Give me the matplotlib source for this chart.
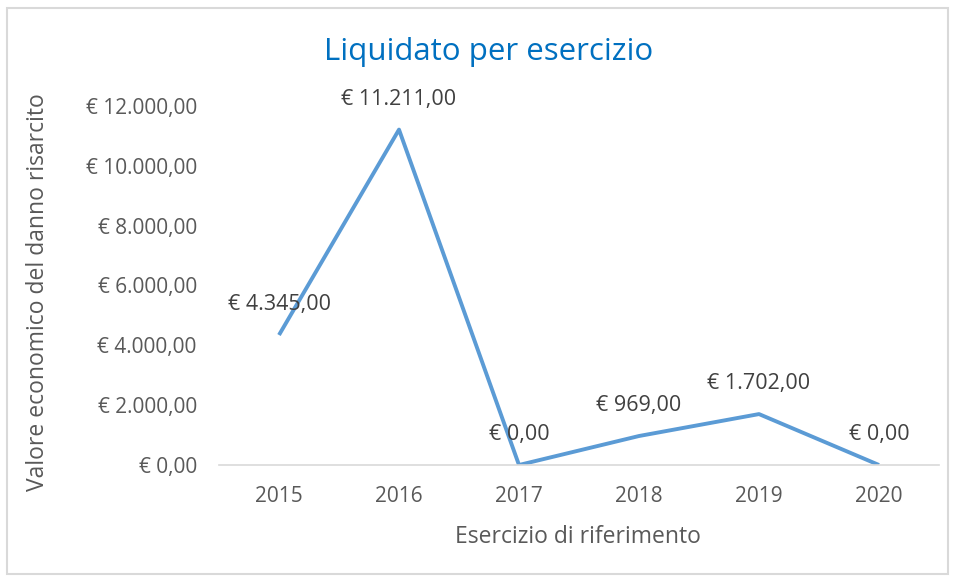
import matplotlib.pyplot as plt
from matplotlib.patches import Rectangle
from matplotlib.ticker import FuncFormatter

plt.rcParams['font.family'] = ['Open Sans', 'DejaVu Sans']

anni = ['2015', '2016', '2017', '2018', '2019', '2020']
liquidato = [4345, 11211, 0, 969, 1702, 0]
etichette = ['€ 4.345,00', '€ 11.211,00', '€ 0,00', '€ 969,00', '€ 1.702,00', '€ 0,00']


def euro(v, pos=None):
    s = f'{v:,.2f}'.replace(',', 'X').replace('.', ',').replace('X', '.')
    return '€ ' + s


grigio = '#595959'

fig = plt.figure(figsize=(9.55, 5.81), dpi=100)
fig.patches.append(Rectangle((7 / 955, 7 / 581), 941 / 955, 566 / 581,
                             transform=fig.transFigure, fill=False,
                             edgecolor='#d9d9d9', linewidth=1.5))

ax = fig.add_axes([219 / 955, 116 / 581, 720 / 955, 359 / 581])
x = list(range(len(anni)))
ax.plot(x, liquidato, color='#5b9bd5', linewidth=2.8, solid_capstyle='butt')

for xi, yi, lab in zip(x, liquidato, etichette):
    ax.annotate(lab, (xi, yi), xytext=(0, 22), textcoords='offset points',
                ha='center', va='center', fontsize=15.5, color='#404040')

ax.set_xlim(-0.5, len(anni) - 0.5)
ax.set_ylim(0, 12000)
ax.set_yticks(range(0, 12001, 2000))
ax.yaxis.set_major_formatter(FuncFormatter(euro))
ax.set_xticks(x)
ax.set_xticklabels(anni)
ax.tick_params(axis='both', length=0, labelsize=15, colors=grigio)
ax.tick_params(axis='x', pad=15)
ax.tick_params(axis='y', pad=16)

for s in ['top', 'right', 'left']:
    ax.spines[s].set_visible(False)
ax.spines['bottom'].set_color('#d9d9d9')
ax.spines['bottom'].set_linewidth(1.2)

fig.text(578 / 955, 1 - 537 / 581, 'Esercizio di riferimento', ha='center', va='center',
         fontsize=16.5, color=grigio)
fig.text(38 / 955, 1 - 292 / 581, 'Valore economico del danno risarcito', ha='center',
         va='center', rotation=90, fontsize=16.5, color=grigio)
fig.text(489 / 955, 1 - 52 / 581, 'Liquidato per esercizio', ha='center', va='center',
         fontsize=22.5, color='#0070c0')

fig.savefig('out.png', dpi=100)
